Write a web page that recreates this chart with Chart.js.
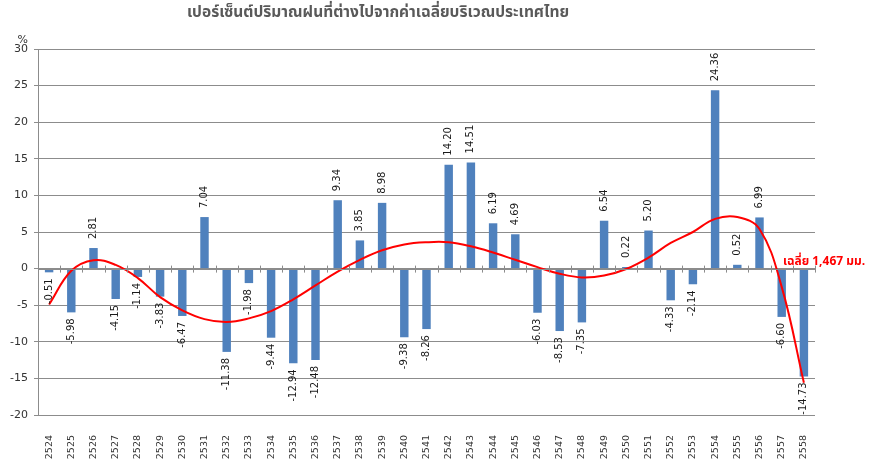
<!DOCTYPE html>
<html>
<head>
<meta charset="utf-8">
<script src="https://cdn.jsdelivr.net/npm/chart.js@4"></script>
<style>
  html, body { margin: 0; padding: 0; background: #fff; }
  #wrap { width: 869px; height: 459px; }
</style>
</head>
<body>
<div id="wrap"><canvas id="myChart"></canvas></div>
<script>
const years = ["2524", "2525", "2526", "2527", "2528", "2529", "2530", "2531", "2532", "2533",
  "2534", "2535", "2536", "2537", "2538", "2539", "2540", "2541", "2542", "2543",
  "2544", "2545", "2546", "2547", "2548", "2549", "2550", "2551", "2552", "2553",
  "2554", "2555", "2556", "2557", "2558"];

const rainPercent = [-0.51, -5.98, 2.81, -4.15, -1.14, -3.83, -6.47, 7.04, -11.38, -1.98,
  -9.44, -12.94, -12.48, 9.34, 3.85, 8.98, -9.38, -8.26, 14.20, 14.51,
  6.19, 4.69, -6.03, -8.53, -7.35, 6.54, 0.22, 5.20, -4.33, -2.14,
  24.36, 0.52, 6.99, -6.60, -14.73];

// red trend curve at each year
const trend = [-4.9, -0.3, 1.15, 0.5, -1.3, -3.9, -5.7, -6.9, -7.3, -6.8,
  -5.8, -4.2, -2.3, -0.4, 1.2, 2.5, 3.3, 3.6, 3.6, 3.05,
  2.2, 1.2, 0.2, -0.7, -1.2, -0.95, -0.05, 1.5, 3.5, 5.0,
  6.8, 7.05, 5.4, -2.5, -15.6];

const yTicks = [-20, -15, -10, -5, 0, 5, 10, 15, 20, 25, 30];

const titleText = "เปอร์เซ็นต์ปริมาณฝนที่ต่างไปจากค่าเฉลี่ยบริเวณประเทศไทย";
const avgText = "เฉลี่ย 1,467 มม.";

const thaiFont = "Tahoma, 'Noto Sans Thai', 'Noto Sans', sans-serif";

const extras = {
  id: "extras",
  afterDatasetsDraw(chart) {
    const ctx = chart.ctx;
    const x = chart.scales.x;
    const y = chart.scales.y;
    const zeroY = y.getPixelForValue(0);

    // small tick marks on the zero line between categories
    ctx.save();
    ctx.strokeStyle = "#8c8c8c";
    ctx.lineWidth = 1;
    ctx.beginPath();
    ctx.moveTo(chart.chartArea.left, Math.round(zeroY) + 0.5);
    ctx.lineTo(chart.chartArea.right, Math.round(zeroY) + 0.5);
    for (let i = 0; i <= years.length; i++) {
      const px = Math.round(x.left + (x.width / years.length) * i) + 0.5;
      ctx.moveTo(px, zeroY - 3);
      ctx.lineTo(px, zeroY + 4);
    }
    ctx.stroke();
    ctx.restore();

    // value labels, rotated
    const meta = chart.getDatasetMeta(1);
    ctx.save();
    ctx.font = "10px 'DejaVu Sans', sans-serif";
    ctx.fillStyle = "#1a1a1a";
    ctx.textBaseline = "middle";
    meta.data.forEach((bar, i) => {
      const v = rainPercent[i];
      const txt = v.toFixed(2);
      ctx.save();
      ctx.translate(bar.x, 0);
      ctx.rotate(-Math.PI / 2);
      if (v >= 0) {
        ctx.textAlign = "left";
        ctx.fillText(txt, -(bar.y - 9), 0);
      } else {
        ctx.textAlign = "right";
        ctx.fillText(txt, -(bar.y + 6), 0);
      }
      ctx.restore();
    });
    ctx.restore();
  },
  afterDraw(chart) {
    const ctx = chart.ctx;
    const y = chart.scales.y;
    ctx.save();
    // title
    ctx.font = "bold 15.5px " + thaiFont;
    ctx.fillStyle = "#595959";
    ctx.textAlign = "center";
    ctx.textBaseline = "middle";
    ctx.fillText(titleText, 378, 14);
    // % unit
    ctx.font = "11px 'DejaVu Sans', sans-serif";
    ctx.fillStyle = "#333";
    ctx.textAlign = "right";
    ctx.fillText("%", 28, 40);
    // average note
    ctx.font = "bold 12px " + thaiFont;
    ctx.fillStyle = "#ff0000";
    ctx.textAlign = "left";
    ctx.fillText(avgText, 783, y.getPixelForValue(0) - 6);
    ctx.restore();
  }
};

new Chart("myChart", {
  data: {
    labels: years,
    datasets: [
      {
        type: "line",
        data: trend,
        borderColor: "#ff0000",
        borderWidth: 2,
        pointRadius: 0,
        tension: 0.4,
        fill: false,
        order: 0
      },
      {
        type: "bar",
        data: rainPercent,
        backgroundColor: "#4f81bd",
        borderColor: "#4f81bd",
        borderWidth: 0,
        barPercentage: 0.38,
        categoryPercentage: 1.0,
        order: 1
      }
    ]
  },
  options: {
    responsive: true,
    maintainAspectRatio: false,
    animation: false,
    layout: { padding: { top: 49, right: 54, bottom: 0, left: 0 } },
    plugins: {
      legend: { display: false },
      tooltip: { enabled: false },
      title: { display: false }
    },
    scales: {
      x: {
        grid: { display: false },
        border: { display: false },
        afterFit(scale) { scale.height = 44; },
        ticks: {
          minRotation: 90,
          maxRotation: 90,
          padding: 12,
          autoSkip: false,
          color: "#333",
          font: { family: "'DejaVu Sans', sans-serif", size: 9.5 }
        }
      },
      y: {
        min: -20,
        max: 30,
        afterFit(scale) { scale.width = 38; },
        afterBuildTicks(scale) { scale.ticks = yTicks.map(v => ({ value: v })); },
        grid: { color: "#8c8c8c", tickLength: 4, drawTicks: true },
        border: { display: true, color: "#8c8c8c" },
        ticks: {
          padding: 6,
          color: "#333",
          font: { family: "'DejaVu Sans', sans-serif", size: 11 }
        }
      }
    }
  },
  plugins: [extras]
});
</script>
</body>
</html>
